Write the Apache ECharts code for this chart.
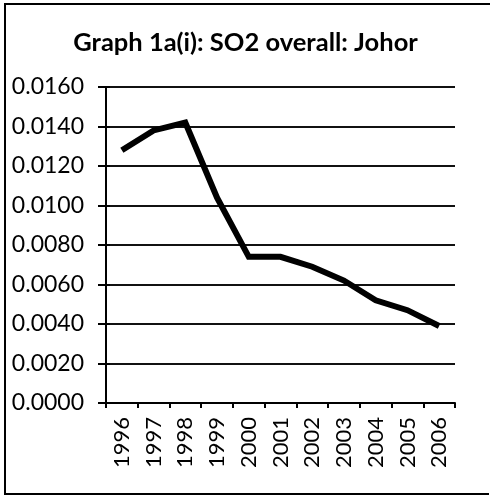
<!DOCTYPE html>
<html>
<head>
<meta charset="utf-8">
<script src="https://cdn.jsdelivr.net/npm/echarts@6/dist/echarts.min.js"></script>
<style>
  html, body { margin: 0; padding: 0; background: #fff; }
  #chart { width: 491px; height: 496px; }
</style>
</head>
<body>
<div id="chart"></div>
<script>
// SO2 overall readings for Johor, 1996-2006
const years = ['1996', '1997', '1998', '1999', '2000', '2001', '2002', '2003', '2004', '2005', '2006'];
const so2 = [0.0128, 0.0138, 0.0142, 0.0104, 0.0074, 0.0074, 0.0069, 0.0062, 0.0052, 0.0047, 0.0039];
const yMin = 0, yMax = 0.016, yStep = 0.002;

const chart = echarts.init(document.getElementById('chart'), null, { renderer: 'canvas' });
const font = 'Lato, "DejaVu Sans", sans-serif';

chart.setOption({
  backgroundColor: '#fff',
  animation: false,
  title: {
    text: 'Graph 1a(i): SO2 overall: Johor',
    left: 'center',
    top: 25,
    textStyle: { fontFamily: font, fontWeight: 'bold', fontSize: 25.5, color: '#000' }
  },
  grid: { left: 106, right: 36, top: 87, bottom: 93 },
  xAxis: {
    type: 'category',
    data: years,
    boundaryGap: true,
    axisLine: { lineStyle: { color: '#000', width: 2 } },
    axisTick: { show: true, length: 5, lineStyle: { color: '#000', width: 2 } },
    axisLabel: {
      rotate: 90, margin: 14, color: '#000',
      fontFamily: font, fontSize: 22
    },
    splitLine: { show: false }
  },
  yAxis: [
    {
      type: 'value',
      min: yMin, max: yMax, interval: yStep,
      axisLine: { show: true, lineStyle: { color: '#000', width: 2 } },
      axisTick: { show: true, length: 8, lineStyle: { color: '#000', width: 2 } },
      axisLabel: {
        margin: 22, color: '#000', fontFamily: font, fontSize: 23,
        formatter: v => v.toFixed(4)
      },
      splitLine: { show: true, lineStyle: { color: '#111', width: 2 } }
    },
    {
      // inner half of the crossing tick marks
      type: 'value',
      position: 'left',
      min: yMin, max: yMax, interval: yStep,
      axisLine: { show: false },
      axisTick: { show: true, inside: true, length: 4, lineStyle: { color: '#000', width: 2 } },
      axisLabel: { show: false },
      splitLine: { show: false }
    }
  ],
  series: [{
    type: 'line',
    data: so2,
    yAxisIndex: 0,
    symbol: 'none',
    lineStyle: { color: '#000', width: 6, join: 'miter' }
  }],
  graphic: [{
    type: 'polyline',
    shape: { points: [[490, 4], [5, 4], [5, 494], [489, 494]] },
    style: { stroke: '#000', lineWidth: 2, fill: null }
  }]
});
</script>
</body>
</html>
